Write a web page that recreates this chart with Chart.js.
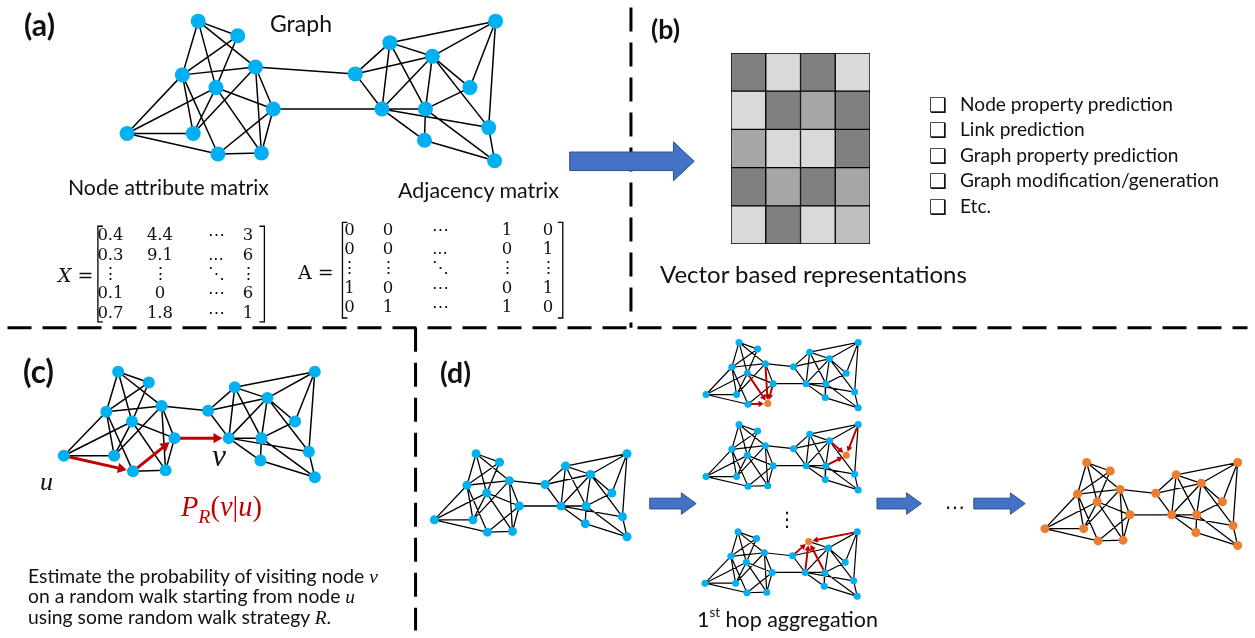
<!DOCTYPE html>
<html><head><meta charset="utf-8">
<script src="https://cdn.jsdelivr.net/npm/chart.js@4.4.0/dist/chart.umd.min.js"></script>
<style>
html,body{margin:0;padding:0;background:#fff;overflow:hidden}
#wrap{position:relative;width:1255px;height:638px}
#main{position:absolute;left:0;top:0}
#vec{position:absolute;left:731px;top:53px}
#txt{position:absolute;left:0;top:0}
</style></head><body>
<div id="wrap">
<canvas id="main" width="1255" height="638"></canvas>
<canvas id="vec" width="139" height="191"></canvas>
<svg id="txt" width="1255" height="638" xmlns="http://www.w3.org/2000/svg"></svg>
</div>
<script>
// ================= DATA =================
// node layout of the graph in panel (a) (20 nodes: 0-9 left community, 10-19 right community)
const graphAX = [193,233,177,251,211,269,121,188,213,257, 352,387,430,494,468,379,423,422,487,493];
const graphAY = [14,29,69,61,82,104,129,129,150,149, 68,36,50,14,82,104,104,136,123,157];
// compact node layout used in panels (c) and (d)
const graphCX = [112,143,100,156,126,169,57,108,127,160, 203,230,263,311,291,224,257,256,305,311];
const graphCY = [373,384,414,408,424,441,459,459,475,474, 413,389,400,373,424,441,441,464,455,481];
// edges
const edgeFrom = [0,0,0,0,1,1,2,2,2,2,3,3,3,4,4,4,4,5,5,6,6,8, 3,5, 10,10,10,11,11,11,11,12,12,12,12,12,13,13,14,15,15,15,16,16,17,18];
const edgeTo   = [1,2,3,4,2,4,3,6,7,8,5,7,9,5,6,7,9,8,9,7,8,9, 10,15, 11,12,15,12,13,15,16,13,14,15,16,18,14,18,16,16,17,18,17,19,19,19];
// random walk in (c): u -> ... -> v
const walkNodes = [6,8,5,15];
// 1st-hop aggregation examples in (d)
const hopTarget  = [9,14,11];
const hopSources = [[3,4,5,8],[12,13,16],[10,13,15,16]];
// vector representation matrix in (b): grey levels, rows top -> bottom
const vecGray = [
  [128,217,128,217],
  [217,128,166,128],
  [166,217,217,128],
  [128,166,128,166],
  [217,128,217,191]
];
const taskLabels = ['Node property prediction','Link prediction','Graph property prediction','Graph modification/generation','Etc.'];
const xMatrix = [['0.4','4.4','\u22EF','3'],['0.3','9.1','...','6'],['\u22EE','\u22EE','\u22F1','\u22EE'],['0.1','0','\u22EF','6'],['0.7','1.8','\u22EF','1']];
const aMatrix = [['0','0','\u22EF','1','0'],['0','0','...','0','1'],['\u22EE','\u22EE','\u22F1','\u22EE','\u22EE'],['1','0','\u22EF','0','1'],['0','1','\u22EF','1','0']];
const walkLines = ['Estimate the probability of visiting node ','on a random walk starting from node ','using some random walk strategy '];
const walkVars = ['v','u','R'];

// ================= LAYOUT / STYLE =================
const BLUE = '#00B0F0', ORANGE = '#ED7D31', RED = '#C00000';
const views = [
  {src:'A', box:null, r:7.5, lw:1.5},
  {src:'C', box:null, r:6, lw:1.5, walk:true, ah:6, aw:3},
  {src:'C', box:[432,627,457,542], r:4.5, lw:1.3},
  {src:'C', box:[707,861,343,410], r:3.5, lw:1.2, hop:0, ah:3.6, aw:2},
  {src:'C', box:[707,861,427,494], r:3.5, lw:1.2, hop:1, ah:3.6, aw:2},
  {src:'C', box:[706,860,537,603], r:3.5, lw:1.2, hop:2, ah:3.6, aw:2},
  {src:'C', box:[1050,1245,466,551], r:4.5, lw:1.3, allOrange:true}
];
const blueArrows = [
  {x0:569, x1:695, y:157.5, bh:19, hh:40, hl:21},
  {x0:650, x1:697, y:508, bh:11, hh:22, hl:15},
  {x0:880, x1:925, y:508, bh:11, hh:22, hl:15},
  {x0:978, x1:1030, y:508, bh:11, hh:22, hl:15}
];

const GAP = {x:null, y:null};
const cx0 = Math.min(...graphCX), cx1 = Math.max(...graphCX), cy0 = Math.min(...graphCY), cy1 = Math.max(...graphCY);
function place(v, i) {
  if (v.src === 'A') return {x: graphAX[i], y: graphAY[i]};
  if (!v.box) return {x: graphCX[i], y: graphCY[i]};
  const b = v.box;
  return {x: b[0] + (graphCX[i]-cx0)/(cx1-cx0)*(b[1]-b[0]), y: b[2] + (graphCY[i]-cy0)/(cy1-cy0)*(b[3]-b[2])};
}
const ds = [];
const line = (data, o) => Object.assign({data, showLine:true, pointRadius:0, borderColor:'#000', borderWidth:1.5, clip:false, order:2}, o);

views.forEach(v => {
  const pos = graphAX.map((_, i) => place(v, i));
  let red = [];
  if (v.walk) for (let k = 0; k < walkNodes.length-1; k++) red.push([walkNodes[k], walkNodes[k+1]]);
  if (v.hop !== undefined) red = hopSources[v.hop].map(s => [s, hopTarget[v.hop]]);
  const isRed = (a,b) => red.some(p => (p[0]===a && p[1]===b) || (p[0]===b && p[1]===a));
  const ed = [];
  edgeFrom.forEach((a, k) => { const b = edgeTo[k]; if (!isRed(a,b)) ed.push(pos[a], pos[b], GAP); });
  ds.push(line(ed, {borderWidth: v.lw, order: 2}));
  if (red.length) {
    const d = [], rr = [], rot = [];
    red.forEach(([s,t]) => {
      const a = pos[s], b = pos[t];
      const dx = b.x-a.x, dy = b.y-a.y, L = Math.hypot(dx,dy), ux = dx/L, uy = dy/L;
      const tip = {x: b.x-ux*(v.r+0.5), y: b.y-uy*(v.r+0.5)};
      const c = {x: tip.x-ux*v.ah, y: tip.y-uy*v.ah};
      d.push(a, c, GAP); rr.push(0, v.ah, 0); rot.push(0, Math.atan2(ux,-uy)*180/Math.PI, 0);
    });
    ds.push(line(d, {borderColor: RED, borderWidth: v.aw, pointStyle:'triangle', pointRadius: rr, pointRotation: rot,
      pointBackgroundColor: RED, pointBorderWidth: 0, order: 1}));
  }
  const cols = pos.map((_, i) => (v.allOrange || (v.hop !== undefined && hopTarget[v.hop] === i)) ? ORANGE : BLUE);
  ds.push({data: pos, pointRadius: v.r, pointBackgroundColor: cols, pointBorderWidth: 0, showLine:false, clip:false, order: 0});
});

// big block arrows
blueArrows.forEach(a => {
  const pts = [[a.x0,a.y-a.bh/2],[a.x1-a.hl,a.y-a.bh/2],[a.x1-a.hl,a.y-a.hh/2],[a.x1,a.y],[a.x1-a.hl,a.y+a.hh/2],[a.x1-a.hl,a.y+a.bh/2],[a.x0,a.y+a.bh/2],[a.x0,a.y-a.bh/2]]
    .map(p => ({x:p[0], y:p[1]}));
  ds.push(line(pts, {fill:'shape', backgroundColor:'#4472C4', borderColor:'#2F528F', borderWidth:1, order:3}));
});
// dashed separators
[[{x:631,y:0},{x:631,y:328}], [{x:0,y:328},{x:1255,y:328}], [{x:413,y:328},{x:413,y:638}]].forEach(p =>
  ds.push(line(p, {borderWidth:3, borderDash:[24,11], order:4})));
// matrix brackets
function bracket(x, y0, y1, dir) { return [{x:x+dir*5,y:y0},{x:x,y:y0},{x:x,y:y1},{x:x+dir*5,y:y1}]; }
ds.push(line(bracket(91.5,224,322,1), {borderWidth:1.3}));
ds.push(line(bracket(260,224,322,-1), {borderWidth:1.3}));
ds.push(line(bracket(339,220,318,1), {borderWidth:1.3}));
ds.push(line(bracket(562,220,318,-1), {borderWidth:1.3}));

new Chart(document.getElementById('main'), {
  type: 'scatter',
  data: {datasets: ds},
  options: {
    responsive:false, animation:false, events:[],
    layout:{padding:0},
    scales:{x:{type:'linear', min:0, max:1255, display:false}, y:{type:'linear', min:0, max:638, reverse:true, display:false}},
    plugins:{legend:{display:false}, tooltip:{enabled:false}},
    elements:{line:{tension:0}}
  }
});

// vector-based representation matrix (stacked bars, one stack per column)
new Chart(document.getElementById('vec'), {
  type:'bar',
  data:{labels: vecGray[0].map((_, i) => 'd' + (i+1)),
    datasets: vecGray.slice().reverse().map(row => ({data: row.map(() => 1),
      backgroundColor: row.map(g => `rgb(${g},${g},${g})`), borderColor:'#000', borderWidth:1, borderSkipped:false,
      barPercentage:1, categoryPercentage:1}))},
  options:{responsive:false, animation:false, events:[], layout:{padding:0},
    scales:{x:{stacked:true, display:false}, y:{stacked:true, display:false, min:0, max:5}},
    plugins:{legend:{display:false}, tooltip:{enabled:false}}}
});

// ================= TEXT =================
const svg = document.getElementById('txt');
const NS = 'http://www.w3.org/2000/svg';
function txt(str, x, y, o = {}) {
  const t = document.createElementNS(NS, 'text');
  t.setAttribute('x', x); t.setAttribute('y', y);
  t.setAttribute('font-family', o.family || 'Lato');
  t.setAttribute('font-size', o.size || 20);
  if (o.weight) t.setAttribute('font-weight', o.weight);
  if (o.style) t.setAttribute('font-style', o.style);
  t.setAttribute('fill', o.color || '#111');
  if (o.anchor) t.setAttribute('text-anchor', o.anchor);
  if (o.html) t.innerHTML = o.html; else t.textContent = str;
  svg.appendChild(t);
  if (o.w) {
    const L = t.getComputedTextLength();
    t.setAttribute('font-size', (parseFloat(t.getAttribute('font-size')) * o.w / L).toFixed(2));
  }
  return t;
}
const SERIF = 'Liberation Serif';
const MATH = 'DejaVu Serif';
txt('(a)', 24, 36, {weight:'bold', w:31});
txt('(b)', 651, 39, {weight:'bold', w:29});
txt('(c)', 23, 383, {weight:'bold', w:31});
txt('(d)', 440, 383, {weight:'bold', w:31});
txt('Graph', 270, 32, {w:62});
txt('Node attribute matrix', 68, 195, {w:201});
txt('Adjacency matrix', 398, 198, {w:161});
txt('Vector based representations', 660, 283, {w:307});
const t0 = txt(taskLabels[0], 960, 111, {w:213});
const tsz = t0.getAttribute('font-size');
taskLabels.forEach((s, i) => {
  if (i) txt(s, 960, 111 + 25.4*i, {size: tsz});
  txt('\u2751', 929, 112 + 25.4*i, {family:'DejaVu Sans', size:20, weight:'bold'});
});
// panel (c)
txt('u', 40, 490, {family:SERIF, style:'italic', w:13});
txt('v', 212, 466, {family:SERIF, style:'italic', w:14});
txt('', 181, 516, {family:SERIF, color:RED, w:81,
  html:'<tspan font-style="italic">P</tspan><tspan font-style="italic" font-size="0.7em" dy="0.35em">R</tspan><tspan dy="-0.245em">(</tspan><tspan font-style="italic">v</tspan>|<tspan font-style="italic">u</tspan>)'});
let dsz = null;
walkLines.forEach((s, i) => {
  const t = txt('', 28, 582.5 + 20.5*i, {size: dsz || 20, w: i ? null : 350,
    html: s + `<tspan font-family="${SERIF}" font-style="italic">${walkVars[i]}</tspan>` + (i === 2 ? '.' : '')});
  if (!i) dsz = t.getAttribute('font-size');
});
// matrices
txt('', 58, 282, {family:MATH, size:19, html:'<tspan font-style="italic">X</tspan> ='});
txt('A =', 298, 279, {family:MATH, size:19});
const xCols = [110.5,160,216,248], xBase = [240,259.5,279,298.3,317.6];
xMatrix.forEach((row, r) => row.forEach((s, c) => txt(s, xCols[c], xBase[r], {family:MATH, size:16.5, anchor:'middle'})));
const aCols = [349.5,388,440,507,548], aBase = [234.5,254,273.3,292.6,312];
aMatrix.forEach((row, r) => row.forEach((s, c) => txt(s, aCols[c], aBase[r], {family:MATH, size:16.5, anchor:'middle'})));
// panel (d)
txt('', 697, 627, {w:181, html:'1<tspan font-size="0.62em" dy="-0.75em">st</tspan><tspan dy="0.465em"> hop aggregation</tspan>'});
txt('\u22EE', 787, 526, {family:'DejaVu Sans', size:20, anchor:'middle'});
txt('\u22EF', 955, 514, {family:'DejaVu Sans', size:20, anchor:'middle'});
</script>
</body></html>
